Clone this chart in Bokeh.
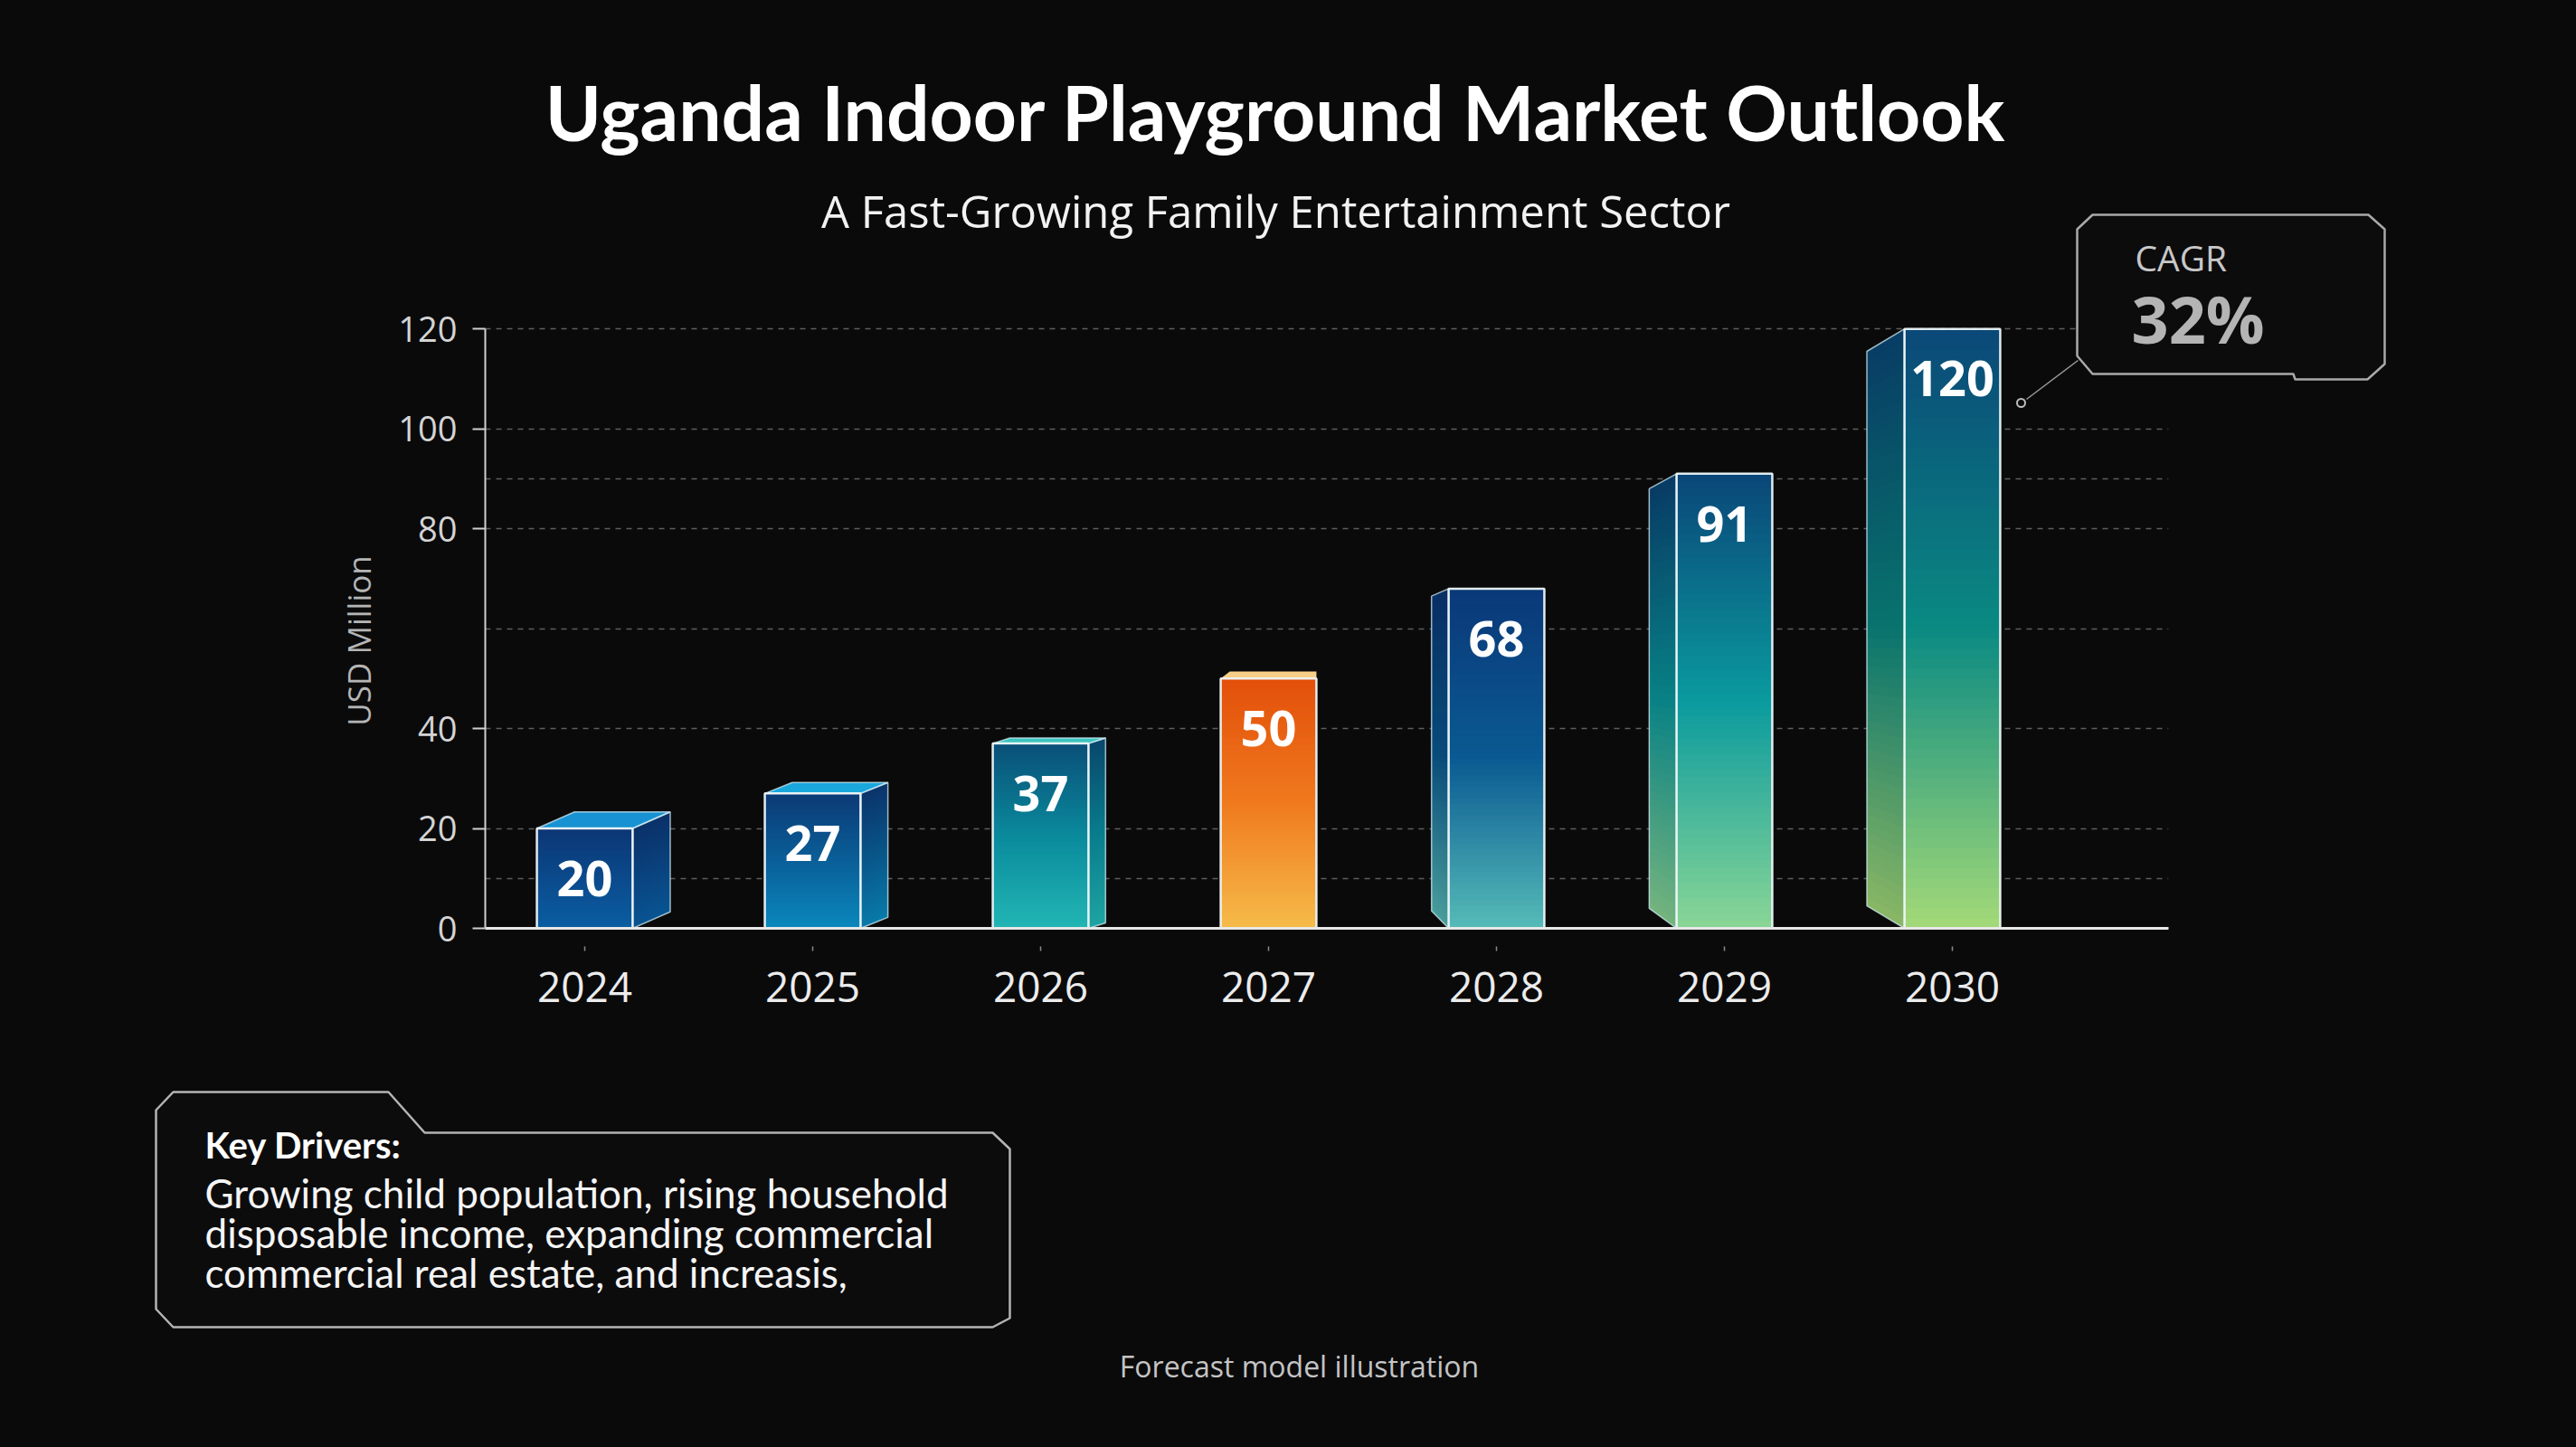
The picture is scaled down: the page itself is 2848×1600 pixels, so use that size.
import math
from bokeh.plotting import figure
from bokeh.models import Range1d, FixedTicker
from bokeh.embed import file_html
from bokeh.resources import INLINE
from bokeh.core.properties import value

# ---------------- data ----------------
years = ["2024", "2025", "2026", "2027", "2028", "2029", "2030"]
market_usd_m = [20, 27, 37, 50, 68, 91, 120]
y_tick_values = [0, 20, 40, 80, 100, 120]
y_grid_values = [10, 20, 40, 60, 80, 90, 100, 120]

title_text = "Uganda Indoor Playground Market Outlook"
subtitle_text = "A Fast-Growing Family Entertainment Sector"
y_axis_title = "USD Million"
cagr_label = "CAGR"
cagr_value = "32%"
drivers_heading = "Key Drivers:"
drivers_lines = [
    "Growing child population, rising household",
    "disposable income, expanding commercial",
    "commercial real estate, and increasis,",
]
footer_text = "Forecast model illustration"

# ---------------- styles ----------------
BG = "#0a0a0b"
FRONT = [
    ["#0c3674", "#0b4a8c", "#0a5ea2"],
    ["#0c3a76", "#0a5f98", "#0a88bc"],
    ["#0a4f78", "#0a8a9c", "#22b6b4"],
    ["#e24f0a", "#f07a1e", "#f6bb4a"],
    ["#0a3878", "#0a5a92", "#56bcb8"],
    ["#0a4678", "#0a9a9e", "#8ad696"],
    ["#0a4878", "#0a8a82", "#a4da78"],
]
TOP_FACE = ["#1892d2", "#1aa8dc", "#3cc6c0", "#f8cf88", None, None, None]
BW = 0.42
CENTER_IDX = 3
N_SLICES = 60

# frame geometry (canvas pixels)
W, H = 2848, 1600
FL, FR, FT, FB = 536, 2397, 330, 1026
X0, X1 = (FL - 646) / 252.0, (FR - 646) / 252.0
Y0, Y1 = 0.0, 126.0


def dx(px):
    return X0 + (px - FL) / (FR - FL) * (X1 - X0)


def dy(py):
    return Y0 + (FB - py) / (FB - FT) * (Y1 - Y0)


def hex2rgb(h):
    h = h.lstrip("#")
    return tuple(int(h[i:i + 2], 16) for i in (0, 2, 4))


def grad(stops, f, k=1.0):
    n = len(stops) - 1
    pos = max(0.0, min(1.0, f)) * n
    j = min(int(pos), n - 1)
    t = pos - j
    a, b = hex2rgb(stops[j]), hex2rgb(stops[j + 1])
    c = [min(255, round((a[q] + (b[q] - a[q]) * t) * k)) for q in range(3)]
    return "#%02x%02x%02x" % tuple(c)


p = figure(
    frame_width=FR - FL, frame_height=FB - FT,
    min_border_left=FL, min_border_right=W - FR,
    min_border_top=FT, min_border_bottom=H - FB,
    x_range=Range1d(X0, X1), y_range=Range1d(Y0, Y1),
    output_backend="svg", toolbar_location=None, title=None,
    background_fill_color=BG, border_fill_color=BG, outline_line_color=None,
)
p.styles = {"background-color": BG}

# ---------------- axes & grid ----------------
p.xaxis.ticker = FixedTicker(ticks=list(range(len(years))))
p.xaxis.major_label_overrides = {i: y for i, y in enumerate(years)}
p.xaxis.axis_line_color = "#e8e8e8"
p.xaxis.axis_line_width = 3
p.xaxis.major_tick_in = -20
p.xaxis.major_tick_out = 25
p.xaxis.major_tick_line_color = "#8a8a8a"
p.xaxis.major_tick_line_width = 1.5
p.xaxis.minor_tick_line_color = None
p.xaxis.major_label_standoff = 23
p.xaxis.major_label_text_font = "Open Sans"
p.xaxis.major_label_text_font_size = "46px"
p.xaxis.major_label_text_color = "#ececec"

p.yaxis.ticker = FixedTicker(ticks=y_tick_values)
p.yaxis.bounds = (0, 120)
p.yaxis.axis_line_color = "#d0d0d0"
p.yaxis.axis_line_width = 2
p.yaxis.major_tick_in = 0
p.yaxis.major_tick_out = 14
p.yaxis.major_tick_line_color = "#cfcfcf"
p.yaxis.major_tick_line_width = 2
p.yaxis.minor_tick_line_color = None
p.yaxis.major_label_standoff = 17
p.yaxis.major_label_text_font = "Open Sans"
p.yaxis.major_label_text_font_size = "38px"
p.yaxis.major_label_text_color = "#d4d4d4"

p.xgrid.grid_line_color = None
p.ygrid.ticker = FixedTicker(ticks=y_grid_values)
p.ygrid.grid_line_color = "#5e5e5e"
p.ygrid.grid_line_dash = "6 6"
p.ygrid.grid_line_width = 1.5

# ---------------- 3D gradient bars ----------------
fl, fr, fb, ft, fc = [], [], [], [], []
sxs, sys, scs = [], [], []
oxs, oys = [], []
txs, tys, tcs = [], [], []
for i, v in enumerate(market_usd_m):
    xl, xr = i - BW / 2, i + BW / 2
    d = abs(i - CENTER_IDX)
    ddx = 0.03 + 0.045 * d
    for k in range(N_SLICES):
        b = v * k / N_SLICES
        t = v * (k + 1) / N_SLICES
        tt = min(v, t + v / N_SLICES * 0.7)
        f = 1 - (k + 0.5) / N_SLICES
        fl.append(xl); fr.append(xr); fb.append(b); ft.append(tt)
        fc.append(grad(FRONT[i], f))
        if i < CENTER_IDX:
            rise = 1.1 * d
            sxs.append([xr, xr + ddx, xr + ddx, xr])
            sys.append([b, b + rise, tt + rise, tt])
            scs.append(grad(FRONT[i], f, 0.9))
        elif i > CENTER_IDX:
            rb, rt = 3 + 0.5 * d, 1.5 * d
            back = lambda y: rb + (y / v) * (v - rt - rb)
            sxs.append([xl, xl - ddx, xl - ddx, xl])
            sys.append([b, back(b), back(tt), tt])
            scs.append(grad(FRONT[i], f, 0.84))
    if i < CENTER_IDX:
        rise = 1.1 * d
        txs.append([xl, xr, xr + ddx, xl + ddx]); tys.append([v, v, v + rise, v + rise])
        tcs.append(TOP_FACE[i])
        oxs.append([xr, xr + ddx, xr + ddx, xr]); oys.append([0, rise, v + rise, v])
        oxs.append([xl, xr, xr + ddx, xl + ddx]); oys.append([v, v, v + rise, v + rise])
    elif i > CENTER_IDX:
        rb, rt = 3 + 0.5 * d, 1.5 * d
        oxs.append([xl, xl - ddx, xl - ddx, xl]); oys.append([0, rb, v - rt, v])
    else:
        txs.append([xl, xr, xr, xl + 0.04]); tys.append([v, v, v + 1.4, v + 1.4])
        tcs.append(TOP_FACE[i])

p.patches(xs=sxs, ys=sys, fill_color=scs, line_color=None)
p.quad(left=fl, right=fr, bottom=fb, top=ft, fill_color=fc, line_color=None)
p.patches(xs=txs, ys=tys, fill_color=tcs, line_color=None)
p.patches(xs=oxs, ys=oys, fill_color=None, line_color="#cfe9f2", line_width=1.5, line_alpha=0.75)
p.quad(left=[i - BW / 2 for i in range(len(years))], right=[i + BW / 2 for i in range(len(years))],
       bottom=[0] * len(years), top=market_usd_m, fill_color=None,
       line_color="#eef6f8", line_width=2.5, line_alpha=0.95)

p.text(x=list(range(len(years))), y=[v - 10 for v in market_usd_m], text=[str(v) for v in market_usd_m],
       text_align="center", text_baseline="middle", text_color="#ffffff",
       text_font=value("Open Sans"), text_font_style="bold", text_font_size="54px")

# ---------------- CAGR callout ----------------
cagr_box = [(2296, 253), (2313, 237), (2618, 237), (2636, 253), (2636, 402), (2617, 419),
            (2537, 419), (2535, 413), (2313, 413), (2296, 393), (2296, 253)]
p.patch(x=[dx(a) for a, b in cagr_box], y=[dy(b) for a, b in cagr_box],
        fill_color="#0c0c0d", line_color="#a9a9a9", line_width=2.5, level="overlay")
p.line(x=[dx(2240), dx(2297)], y=[dy(441), dy(398)], line_color="#9a9a9a", line_width=1.5, level="overlay")
p.scatter(x=[dx(2234)], y=[dy(445)], marker="circle", size=9, fill_color=None,
          line_color="#bdbdbd", line_width=2, level="overlay")

# ---------------- Key drivers box ----------------
kd_box = [(172, 1227), (191, 1207), (429, 1207), (469, 1252), (1097, 1252), (1116, 1270),
          (1116, 1457), (1097, 1467), (191, 1467), (172, 1447), (172, 1227)]
p.patch(x=[dx(a) for a, b in kd_box], y=[dy(b) for a, b in kd_box],
        fill_color="#0c0c0d", line_color="#b4b4b4", line_width=2.5, level="overlay")

BASELINE_FIX = 0.42  # em correction for the alphabetic baseline


def add_text(px, py, text, size, font="Open Sans", style="normal", color="#ffffff",
             align="left", baseline="alphabetic", angle=0.0):
    if baseline == "alphabetic":
        py = py - BASELINE_FIX * size
    p.text(x=[dx(px)], y=[dy(py)], text=[text], text_font=value(font), text_font_size="%dpx" % size,
           text_font_style=style, text_color=color, text_align=align,
           text_baseline=baseline, angle=angle, level="overlay")


add_text(1410, 158, title_text, 84, font="Lato", style="bold", align="center")
add_text(1410, 253, subtitle_text, 49, color="#f2f2f2", align="center")
add_text(396, 708, y_axis_title, 35, color="#b5b5b5", align="center", baseline="middle",
         angle=math.pi / 2)
add_text(2360, 300, cagr_label, 39, color="#c8c8c8")
add_text(2356, 382, cagr_value, 72, style="bold", color="#b4b4b4")
add_text(226, 1282, drivers_heading, 40, font="Lato", style="bold", color="#ffffff")
for j, line in enumerate(drivers_lines):
    add_text(226, 1337 + 44 * j, line, 44, font="Lato", color="#f5f5f5")
add_text(1436, 1523, footer_text, 32, color="#c4c4c4", align="center")

open("out.html", "w").write(file_html(p, INLINE))
